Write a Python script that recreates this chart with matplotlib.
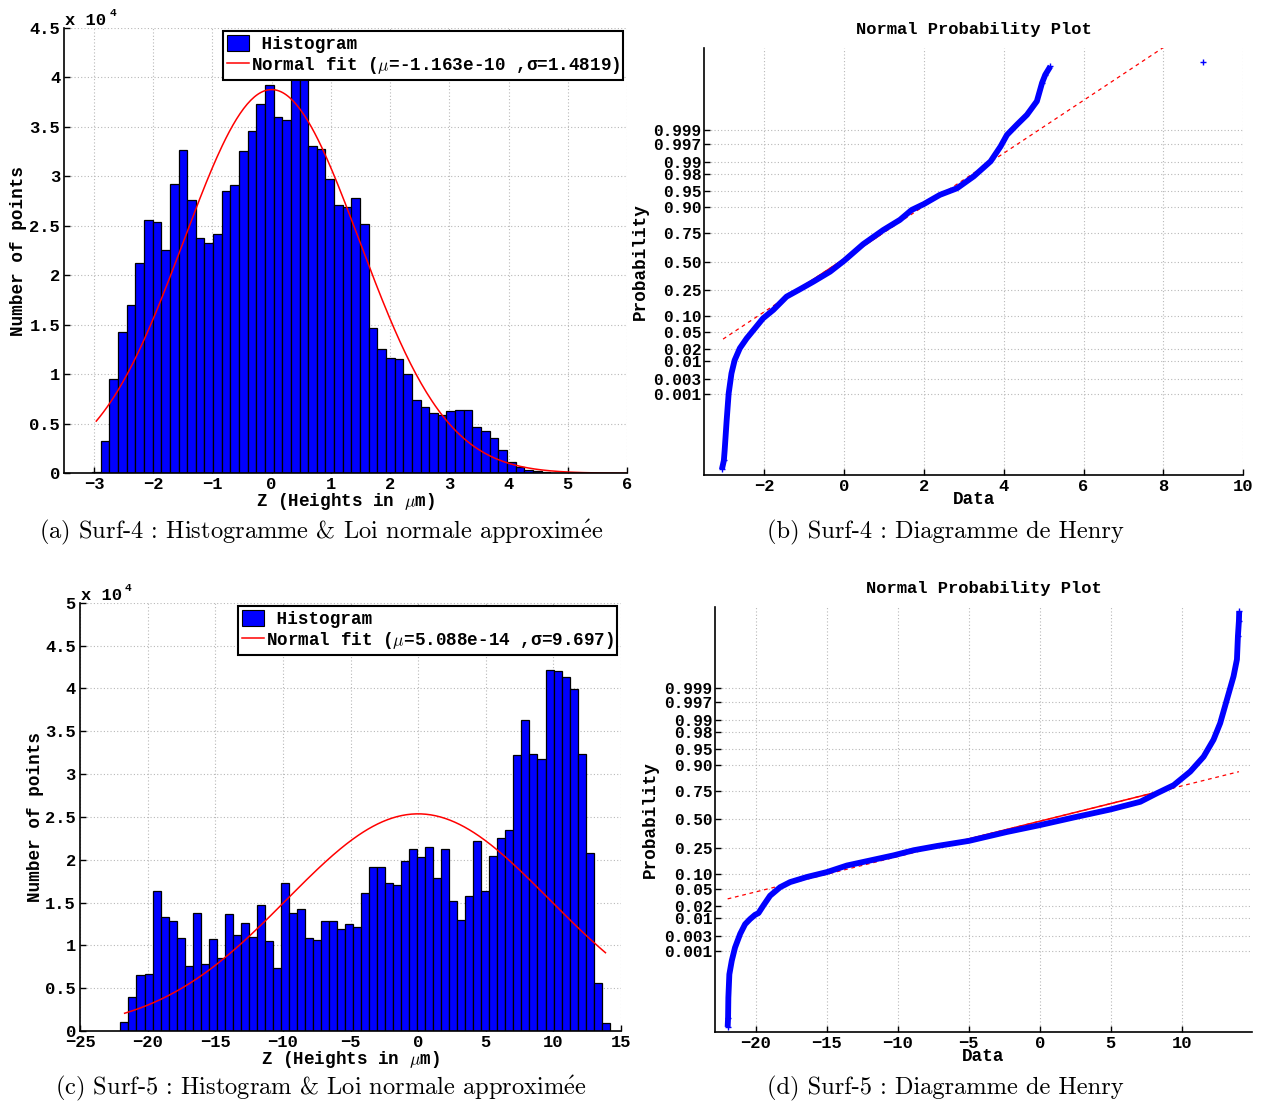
import matplotlib
matplotlib.use('Agg')
import matplotlib.pyplot as plt
import numpy as np
from statistics import NormalDist
from matplotlib.patches import Patch
from matplotlib.lines import Line2D
from matplotlib.ticker import FixedLocator, FuncFormatter

plt.rcParams['mathtext.fontset'] = 'cm'
MONO = ['Liberation Mono', 'DejaVu Sans Mono']
SERIF = ['cmr10', 'DejaVu Serif']

# ---------------- data: Surf-4 histogram (counts in units of 1e4) ----------------
surf4_bin_start = -3.03
surf4_bin_width = 0.1459
surf4_counts = [0.01, 0.33, 0.95, 1.43, 1.70, 2.12, 2.56, 2.54, 2.26, 2.92,
                3.26, 2.76, 2.38, 2.33, 2.42, 2.85, 2.91, 3.25, 3.46, 3.73,
                3.92, 3.60, 3.57, 4.08, 4.08, 3.31, 3.28, 2.97, 2.71, 2.69,
                2.78, 2.52, 1.47, 1.26, 1.16, 1.15, 1.00, 0.74, 0.67, 0.61,
                0.585, 0.625, 0.635, 0.635, 0.47, 0.43, 0.36, 0.24, 0.11, 0.06,
                0.03, 0.02, 0.01, 0.006, 0.004, 0.002, 0.001]
surf4_mu, surf4_sigma, surf4_fit_peak = -1.163e-10, 1.4819, 3.875
surf4_fit_range = [-2.96, 9.0]

# ---------------- data: Surf-5 histogram ----------------
surf5_bin_start = -22.01
surf5_bin_width = 0.593
surf5_counts = [0.11, 0.40, 0.65, 0.67, 1.64, 1.33, 1.28, 1.09, 0.76, 1.38,
                0.78, 1.07, 0.85, 1.37, 1.12, 1.26, 1.10, 1.475, 1.05, 0.73,
                1.73, 1.38, 1.425, 1.09, 1.06, 1.28, 1.285, 1.19, 1.25, 1.21,
                1.61, 1.92, 1.915, 1.73, 1.70, 1.99, 2.12, 2.03, 2.15, 1.79,
                2.13, 1.52, 1.30, 1.58, 2.22, 1.64, 2.04, 2.25, 2.35, 3.22,
                3.63, 3.23, 3.17, 4.21, 4.20, 4.13, 3.99, 3.23, 2.08, 0.56, 0.09]
surf5_mu, surf5_sigma, surf5_fit_peak = 5.088e-14, 9.697, 2.535
surf5_fit_range = [-21.7, 13.85]

# ---------------- data: normal probability plots (x, normal quantile z) ----------------
henry4_x = [-3.06, -3.01, -2.99, -2.94, -2.89, -2.82, -2.74, -2.61, -2.44, -2.23,
            -2.03, -1.77, -1.44, -1.11, -0.77, -0.35, 0.0, 0.48, 0.98, 1.40,
            1.69, 2.0, 2.40, 2.83, 3.25, 3.67, 3.92, 4.08, 4.33, 4.58,
            4.83, 4.96, 5.04, 5.17]
henry4_z = [-4.87, -4.66, -4.42, -3.72, -3.09, -2.62, -2.31, -2.03, -1.80, -1.56,
            -1.33, -1.13, -0.82, -0.65, -0.47, -0.235, 0.02, 0.41, 0.74, 0.98,
            1.21, 1.35, 1.565, 1.72, 2.0, 2.35, 2.70, 2.97, 3.21, 3.44,
            3.76, 4.19, 4.38, 4.58]
henry4_outlier = (8.98, 4.67)
henry4_ref_x = [-3.03, 9.0]
henry4_ref_z = [-1.815, 5.64]
henry4_quartile_x = [-1.07, 0.90]

henry5_x = [-21.98, -21.95, -21.93, -21.86, -21.69, -21.46, -21.1, -20.75, -20.4, -20.05,
            -19.81, -19.46, -18.99, -18.28, -17.58, -16.4, -14.99, -13.58, -11.93, -10.28,
            -8.87, -7.22, -4.98, -2.30, 0.0, 2.39, 5.0, 7.09, 8.26, 9.44,
            10.61, 11.55, 12.25, 12.72, 13.19, 13.66, 13.9, 13.97, 14.04, 14.06]
henry5_z = [-4.89, -4.67, -4.20, -3.65, -3.33, -3.02, -2.70, -2.47, -2.35, -2.25,
            -2.21, -2.03, -1.80, -1.60, -1.48, -1.36, -1.245, -1.09, -0.97, -0.85,
            -0.73, -0.63, -0.51, -0.30, -0.14, 0.04, 0.23, 0.41, 0.61, 0.80,
            1.12, 1.47, 1.87, 2.26, 2.81, 3.36, 3.76, 4.31, 4.67, 4.89]
henry5_ref_x = [-21.98, 14.04]
henry5_ref_z = [-1.875, 1.118]
henry5_quartile_x = [-7.9, 9.4]

prob_ticks = [0.001, 0.003, 0.01, 0.02, 0.05, 0.10, 0.25, 0.50, 0.75, 0.90,
              0.95, 0.98, 0.99, 0.997, 0.999]
prob_labels = ['0.001', '0.003', '0.01', '0.02', '0.05', '0.10', '0.25', '0.50',
               '0.75', '0.90', '0.95', '0.98', '0.99', '0.997', '0.999']

ACC = r'$\acute{\mathrm{e}}$'
captions = ['(a) Surf-4 : Histogramme & Loi normale approxim' + ACC + 'e',
            '(b) Surf-4 : Diagramme de Henry',
            '(c) Surf-5 : Histogram & Loi normale approxim' + ACC + 'e',
            '(d) Surf-5 : Diagramme de Henry']

W, H = 1263, 1102
fig = plt.figure(figsize=(W / 100, H / 100), dpi=100)


def px_axes(l, t, r, b):
    return fig.add_axes([l / W, 1 - b / H, (r - l) / W, (b - t) / H])


TICKFS = 12.3
LABFS = 12.7
GRID = dict(color='#b8b8b8', linestyle=(0, (1, 2)), linewidth=0.8)


def fmt_num(v, pos=None):
    s = '%g' % v
    return s.replace('-', '\u2212')


def style_axes(ax):
    for s in ['top', 'right']:
        ax.spines[s].set_visible(False)
    for s in ['left', 'bottom']:
        ax.spines[s].set_linewidth(1.2)
    ax.tick_params(direction='in', length=4, width=1, labelsize=TICKFS, pad=3)
    for lab in ax.get_xticklabels() + ax.get_yticklabels():
        lab.set_fontfamily(MONO)
        lab.set_fontweight('bold')
    ax.grid(True, **GRID)
    ax.set_axisbelow(True)


def hist_panel(ax, start, width, counts, mu, sigma, peak, frange, xlim, xticks, ylim, yticks, leg_label):
    counts = np.array(counts)
    lefts = start + width * np.arange(len(counts))
    ax.bar(lefts, counts, width=width, align='edge', color='#0000ff', edgecolor='black', linewidth=0.9)
    xx = np.linspace(frange[0], frange[1], 400)
    yy = peak * np.exp(-0.5 * ((xx - mu) / sigma) ** 2)
    ax.plot(xx, yy, color='red', linewidth=1.1)
    ax.set_xlim(*xlim)
    ax.set_ylim(*ylim)
    ax.xaxis.set_major_locator(FixedLocator(xticks))
    ax.yaxis.set_major_locator(FixedLocator(yticks))
    ax.xaxis.set_major_formatter(FuncFormatter(fmt_num))
    ax.yaxis.set_major_formatter(FuncFormatter(fmt_num))
    style_axes(ax)
    ax.set_xlabel(r'Z (Heights in $\mu$m)', fontfamily=MONO, fontweight='bold', fontsize=LABFS)
    ax.set_ylabel('Number of points', fontfamily=MONO, fontweight='bold', fontsize=LABFS)
    ax.annotate('x 10', xy=(0, 1), xycoords='axes fraction', xytext=(1, 3), textcoords='offset pixels',
                ha='left', va='baseline', fontfamily=MONO, fontweight='bold', fontsize=TICKFS)
    ax.annotate('4', xy=(0, 1), xycoords='axes fraction', xytext=(45, 12), textcoords='offset pixels',
                ha='left', va='baseline', fontfamily=MONO, fontweight='bold', fontsize=8)
    handles = [Patch(facecolor='#0000ff', edgecolor='black', linewidth=0.8),
               Line2D([], [], color='red', linewidth=1.1)]
    leg = ax.legend(handles, [' Histogram', leg_label], loc='upper right', bbox_to_anchor=(1.0, 1.0),
                    borderaxespad=0.2, fancybox=False, framealpha=1, edgecolor='black',
                    handlelength=1.25, handleheight=1.0, handletextpad=0.1, borderpad=0.2,
                    labelspacing=0.15, prop={'family': MONO, 'weight': 'bold', 'size': LABFS})
    leg.get_frame().set_linewidth(1.5)


def henry_panel(ax, hx, hz, refx, refz, qx, xlim, xticks, outlier=None):
    refx = np.array(refx)
    refz = np.array(refz)
    slope = (refz[1] - refz[0]) / (refx[1] - refx[0])
    ax.plot(refx, refz, color='red', linestyle=(0, (3, 3)), linewidth=0.9, zorder=2)
    qx = np.array(qx)
    ax.plot(qx, refz[0] + slope * (qx - refx[0]), color='red', linewidth=1.1, zorder=2)
    ax.plot(hx, hz, color='#0000ff', linewidth=4.2, solid_capstyle='butt', solid_joinstyle='round', zorder=3)
    ax.plot(hx[:2] + hx[-3:], hz[:2] + hz[-3:], '+', color='#0000ff', markersize=4, mew=1.0, zorder=4)
    if outlier is not None:
        ax.plot([outlier[0]], [outlier[1]], '+', color='#0000ff', markersize=4, mew=1.0, zorder=4)
    ax.set_xlim(*xlim)
    ax.set_ylim(-5.0, 5.0)
    nd = NormalDist()
    ax.yaxis.set_major_locator(FixedLocator([nd.inv_cdf(p) for p in prob_ticks]))
    ax.set_yticklabels(prob_labels)
    ax.xaxis.set_major_locator(FixedLocator(xticks))
    ax.xaxis.set_major_formatter(FuncFormatter(fmt_num))
    style_axes(ax)
    ax.tick_params(axis='y', labelsize=11.6, pad=2)
    ax.set_title('Normal Probability Plot', fontfamily=MONO, fontweight='bold', fontsize=TICKFS, pad=10)
    ax.set_xlabel('Data', fontfamily=MONO, fontweight='bold', fontsize=LABFS)
    ax.set_ylabel('Probability', fontfamily=MONO, fontweight='bold', fontsize=LABFS)


ax_a = px_axes(64.3, 27.7, 627, 473.3)
hist_panel(ax_a, surf4_bin_start, surf4_bin_width, surf4_counts, surf4_mu, surf4_sigma, surf4_fit_peak,
           surf4_fit_range, (-3.5, 6), list(range(-3, 7)), (0, 4.5), np.arange(0, 4.51, 0.5),
           r'Normal fit ($\mu$=-1.163e-10 ,σ=1.4819)')
ax_a.xaxis.set_label_coords(0.5, -0.04)
ax_a.yaxis.set_label_coords(-0.066, 0.5)

ax_c = px_axes(80, 602.7, 621, 1031)
hist_panel(ax_c, surf5_bin_start, surf5_bin_width, surf5_counts, surf5_mu, surf5_sigma, surf5_fit_peak,
           surf5_fit_range, (-25, 15), list(range(-25, 16, 5)), (0, 5), np.arange(0, 5.01, 0.5),
           r'Normal fit ($\mu$=5.088e-14 ,σ=9.697)')
ax_c.xaxis.set_label_coords(0.5, -0.042)
ax_c.yaxis.set_label_coords(-0.066, 0.5)

ax_b = px_axes(704.3, 48.3, 1243.3, 475)
henry_panel(ax_b, henry4_x, henry4_z, henry4_ref_x, henry4_ref_z, henry4_quartile_x,
            (-3.5, 10), list(range(-2, 11, 2)), outlier=henry4_outlier)
ax_b.xaxis.set_label_coords(0.5, -0.038)
ax_b.yaxis.set_label_coords(-0.103, 0.5)

ax_d = px_axes(715.3, 606.7, 1251.7, 1031.7)
henry_panel(ax_d, henry5_x, henry5_z, henry5_ref_x, henry5_ref_z, henry5_quartile_x,
            (-22.85, 14.94), list(range(-20, 11, 5)))
ax_d.xaxis.set_label_coords(0.5, -0.038)
ax_d.yaxis.set_label_coords(-0.105, 0.5)

cap_pos = [(321, 532), (945, 532), (321, 1088), (945, 1088)]
for (cx, cy), txt in zip(cap_pos, captions):
    fig.text(cx / W, 1 - cy / H, txt, ha='center', va='center', fontfamily=SERIF, fontsize=17.6)

fig.savefig('out.png', dpi=100)
